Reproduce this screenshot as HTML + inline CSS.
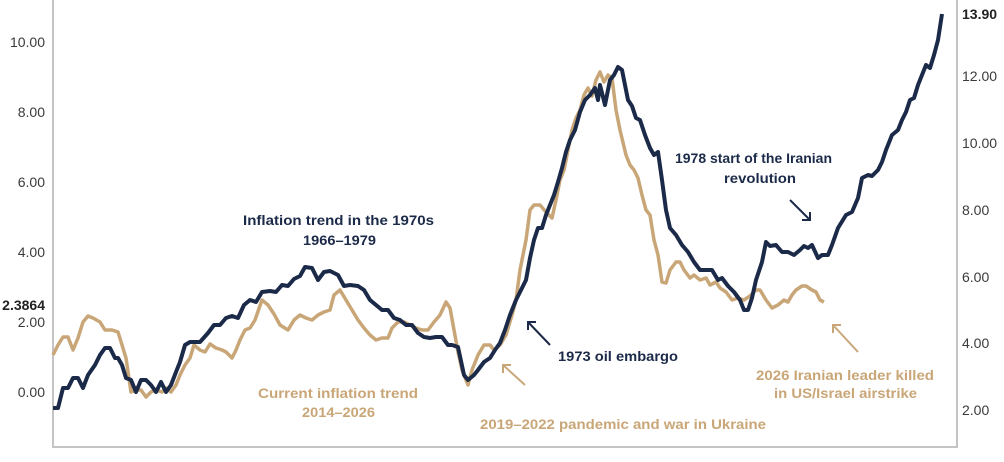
<!DOCTYPE html>
<html><head><meta charset="utf-8"><style>
html,body{margin:0;padding:0;background:#fff;}
svg{display:block;font-family:"Liberation Sans",sans-serif;}
</style></head><body>
<svg width="1004" height="462" viewBox="0 0 1004 462">
<g stroke="#c4c4c4" stroke-width="2" fill="none">
<path d="M53 0V447H957V0"/>
</g>
<g font-size="14" fill="#3a3a3a" text-anchor="end">
<text x="45" y="47">10.00</text>
<text x="45" y="117">8.00</text>
<text x="45" y="187">6.00</text>
<text x="45" y="257">4.00</text>
<text x="45" y="327">2.00</text>
<text x="45" y="397">0.00</text>
<text x="45" y="310" font-weight="bold" fill="#222">2.3864</text>
</g>
<g font-size="14" fill="#3a3a3a">
<text x="962" y="81">12.00</text>
<text x="962" y="148">10.00</text>
<text x="962" y="215">8.00</text>
<text x="962" y="282">6.00</text>
<text x="962" y="348">4.00</text>
<text x="962" y="415">2.00</text>
<text x="962" y="19" font-weight="bold" fill="#222">13.90</text>
</g>
<polyline fill="none" stroke="#c9a677" stroke-width="3.5" stroke-linejoin="round" points="53,355 58,345 63,337 68,337 73,350 78,338 83,322 88,316 93,318 100,322 105,330 112,330 118,332 122,345 126,358 131,392 136,390 141,390 146,397 151,392 156,390 162,392 166,388 171,392 176,385 180,375 185,365 190,358 194,345 200,350 205,352 210,344 216,348 222,350 226,352 232,358 236,350 240,340 245,330 250,328 255,320 262,300 268,305 274,314 280,325 288,330 294,320 300,315 306,318 312,320 318,315 324,312 330,310 334,295 340,290 346,300 352,310 358,320 364,328 370,335 376,340 382,338 388,338 392,328 398,322 404,322 410,325 416,328 422,330 428,330 434,322 440,315 446,302 450,308 454,330 458,352 462,370 468,385 472,370 478,355 484,345 490,345 494,350 500,345 506,335 512,315 516,300 520,270 526,240 530,210 534,205 540,205 546,212 552,218 556,200 560,180 564,170 568,150 572,130 576,118 580,110 584,95 588,88 592,96 596,80 600,72 604,82 608,75 612,78 616,110 620,130 626,155 630,165 634,170 638,178 642,195 646,210 650,215 654,240 658,255 662,282 666,283 670,270 676,262 680,262 684,270 690,278 694,275 700,280 706,278 710,285 716,282 720,288 726,292 732,300 738,298 744,300 750,296 756,290 760,290 766,300 772,308 778,305 784,300 788,302 792,295 796,290 802,286 806,286 812,290 816,292 820,300 824,302"/>
<polyline fill="none" stroke="#1b2a48" stroke-width="4" stroke-linejoin="round" points="53,408 58,408 63,388 68,388 73,378 78,378 83,388 88,375 95,365 100,355 105,348 110,348 115,358 118,358 122,365 126,378 131,380 136,392 141,380 146,380 151,385 156,392 161,382 166,392 171,385 176,372 180,362 185,345 190,342 200,342 208,333 214,325 220,325 226,318 232,316 238,318 244,305 250,300 256,302 262,292 270,291 276,292 282,285 288,286 294,279 300,276 305,267 312,268 318,280 324,272 330,271 338,275 344,286 350,285 358,286 364,290 370,300 376,305 382,310 388,310 394,318 400,320 406,325 412,325 418,333 424,337 430,338 436,337 442,337 448,345 452,345 458,347 464,375 468,380 474,375 478,370 484,362 490,358 495,350 500,343 505,330 510,315 516,300 520,292 526,280 530,258 534,240 538,228 542,228 546,215 550,205 554,195 558,182 562,168 566,152 570,140 575,130 580,112 585,100 590,95 595,88 598,100 600,85 605,105 610,80 614,75 618,67 622,70 628,100 632,106 636,118 640,120 645,135 650,148 654,155 658,152 662,180 666,210 670,228 676,235 682,245 688,252 694,262 700,270 706,270 712,270 718,280 722,278 728,286 734,292 740,300 744,310 748,310 752,298 756,280 762,262 766,242 770,246 776,245 782,252 788,252 794,255 800,250 804,246 808,248 812,245 818,258 822,255 828,255 832,245 838,228 846,215 852,212 858,198 862,178 868,175 872,176 878,170 882,162 886,150 892,135 898,130 902,120 906,112 910,100 914,98 918,85 922,75 926,65 930,68 934,55 938,40 942,14"/>
<g fill="none" stroke-width="2">
<path d="M550 345L528 322M528 330V322H536" stroke="#1b2a48"/>
<path d="M790 200L810 220M810 212V220H802" stroke="#1b2a48"/>
<path d="M525 385L503 365M503 373V365H511" stroke="#c9a677"/>
<path d="M858 352L833 325M833 333V325H841" stroke="#c9a677"/>
</g>
<g font-size="14" font-weight="bold">
<text x="243" y="225" textLength="191" lengthAdjust="spacingAndGlyphs" fill="#1b2a48">Inflation trend in the 1970s</text>
<text x="303" y="245" textLength="73" lengthAdjust="spacingAndGlyphs" fill="#1b2a48">1966–1979</text>
<text x="558" y="361" textLength="120" lengthAdjust="spacingAndGlyphs" fill="#1b2a48">1973 oil embargo</text>
<text x="675" y="163" textLength="157" lengthAdjust="spacingAndGlyphs" fill="#1b2a48">1978 start of the Iranian</text>
<text x="724" y="183" textLength="72" lengthAdjust="spacingAndGlyphs" fill="#1b2a48">revolution</text>
<text x="258" y="398" textLength="160" lengthAdjust="spacingAndGlyphs" fill="#c9a677">Current inflation trend</text>
<text x="302" y="417" textLength="73" lengthAdjust="spacingAndGlyphs" fill="#c9a677">2014–2026</text>
<text x="480" y="429" textLength="286" lengthAdjust="spacingAndGlyphs" fill="#c9a677">2019–2022 pandemic and war in Ukraine</text>
<text x="756" y="380" textLength="178" lengthAdjust="spacingAndGlyphs" fill="#c9a677">2026 Iranian leader killed</text>
<text x="774" y="398" textLength="143" lengthAdjust="spacingAndGlyphs" fill="#c9a677">in US/Israel airstrike</text>
</g>
</svg>
</body></html>
